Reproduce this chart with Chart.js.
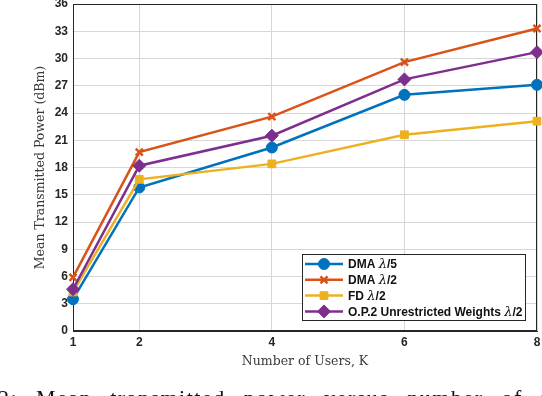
<!DOCTYPE html>
<html>
<head>
<meta charset="utf-8">
<script src="https://cdn.jsdelivr.net/npm/chart.js@4.4.1/dist/chart.umd.min.js"></script>
<style>
  html, body { margin: 0; padding: 0; background: #fff; }
  #wrap { position: relative; width: 542px; height: 396px; overflow: hidden; }
  #chart { position: absolute; left: 0; top: 0; }
  #caption {
    position: absolute; left: -2px; top: 385px; white-space: nowrap;
    font: 22px "Liberation Serif", serif; color: #111; letter-spacing: 1.5px; word-spacing: 11px;
  }
</style>
</head>
<body>
<div id="wrap">
  <canvas id="chart" width="542" height="396"></canvas>
  <div id="caption">2: Mean transmitted power versus number of users for</div>
</div>
<script>
// data
const users = [1, 2, 4, 6, 8];
const dmaLambda5 = [3.5, 15.8, 20.2, 26.0, 27.1];
const dmaLambda2 = [5.9, 19.7, 23.6, 29.6, 33.3];
const fdLambda2 = [4.3, 16.7, 18.4, 21.6, 23.1];
const opUnrestricted = [4.6, 18.2, 21.5, 27.7, 30.7];

const seriesNames = ['DMA λ/5', 'DMA λ/2', 'FD λ/2', 'O.P.2 Unrestricted Weights λ/2'];
const seriesColors = ['#0072BD', '#D95319', '#EDB120', '#7E2F8E'];
const seriesMarkers = ['circle', 'crossRot', 'rect', 'rectRot'];
const xTicks = [1, 2, 4, 6, 8];

const AXIS = '#262626';
const GRID = '#d6d6d6';
const TICK_FONT = { family: '"Liberation Sans", Arial, sans-serif', size: 12, weight: 'bold', lineHeight: 0.5 };

function makeSet(i, values, radius, order) {
  return {
    label: seriesNames[i],
    data: users.map((u, k) => ({ x: u, y: values[k] })),
    borderColor: seriesColors[i],
    backgroundColor: seriesColors[i],
    pointBackgroundColor: seriesColors[i],
    pointBorderColor: seriesColors[i],
    pointStyle: seriesMarkers[i],
    pointRadius: radius,
    pointBorderWidth: seriesMarkers[i] === 'crossRot' ? 2.5 : 1,
    borderWidth: 2.5,
    tension: 0,
    clip: false,
    order: order
  };
}

// draws text pieces, λ in italic serif
function drawMixed(ctx, text, x, y) {
  const parts = text.split('λ');
  let cx = x;
  parts.forEach((p, k) => {
    ctx.font = 'bold 12px "Liberation Sans", Arial, sans-serif';
    ctx.fillText(p, cx, y);
    cx += ctx.measureText(p).width;
    if (k < parts.length - 1) {
      ctx.font = 'italic 13px "DejaVu Serif", serif';
      ctx.fillText('λ', cx, y);
      cx += ctx.measureText('λ').width;
    }
  });
}

// box frame + matlab style legend
const frameAndLegend = {
  id: 'frameAndLegend',
  beforeDatasetsDraw(chart) {
    const { ctx, chartArea: a } = chart;
    ctx.save();
    ctx.strokeStyle = AXIS;
    ctx.lineWidth = 1;
    ctx.strokeRect(a.left + 0.5, a.top + 0.5, a.right - a.left - 1, a.bottom - a.top - 1);
    ctx.restore();
  },
  afterDatasetsDraw(chart) {
    const { ctx, chartArea: a } = chart;
    ctx.save();
    // legend box
    const lx = a.right - 235, ly = a.bottom - 77, lw = 223, lh = 66;
    ctx.fillStyle = '#fff';
    ctx.fillRect(lx, ly, lw, lh);
    ctx.strokeStyle = AXIS;
    ctx.lineWidth = 1;
    ctx.strokeRect(lx + 0.5, ly + 0.5, lw, lh);

    chart.data.datasets.forEach((ds, i) => {
      const rowY = ly + 10 + i * 15.8;
      ctx.strokeStyle = ds.borderColor;
      ctx.lineWidth = 2.5;
      ctx.beginPath();
      ctx.moveTo(lx + 3, rowY);
      ctx.lineTo(lx + 41, rowY);
      ctx.stroke();
      ctx.fillStyle = ds.backgroundColor;
      ctx.lineWidth = ds.pointBorderWidth;
      Chart.helpers.drawPoint(ctx, { pointStyle: ds.pointStyle, radius: ds.pointRadius, rotation: 0, borderWidth: ds.pointBorderWidth }, lx + 22, rowY);
      ctx.fillStyle = '#111';
      ctx.textBaseline = 'middle';
      ctx.textAlign = 'left';
      drawMixed(ctx, ds.label, lx + 46, rowY + 1);
    });
    ctx.restore();
  }
};

new Chart(document.getElementById('chart'), {
  type: 'line',
  data: {
    datasets: [
      makeSet(0, dmaLambda5, 5.5, 3),
      makeSet(1, dmaLambda2, 5, 2),
      makeSet(2, fdLambda2, 5.5, 1),
      makeSet(3, opUnrestricted, 6.5, 0)
    ]
  },
  options: {
    responsive: false,
    animation: false,
    layout: { autoPadding: false, padding: { left: 0, top: 4, right: 5, bottom: 0 } },
    plugins: { legend: { display: false }, tooltip: { enabled: false } },
    scales: {
      x: {
        type: 'linear',
        min: 1,
        max: 8,
        afterBuildTicks: (s) => { s.ticks = xTicks.map(v => ({ value: v })); },
        afterFit: (s) => { s.height = 65; s.paddingLeft = 0; s.paddingRight = 0; },
        grid: { color: GRID, drawTicks: false },
        border: { color: AXIS },
        ticks: { color: AXIS, font: TICK_FONT, padding: 9, autoSkip: false, maxRotation: 0 },
        title: {
          display: true,
          text: 'Number of Users, K',
          color: '#3a3a3a',
          font: { family: '"DejaVu Serif", serif', size: 12.5 },
          padding: { top: 0, bottom: 27 }
        }
      },
      y: {
        min: 0,
        max: 36,
        afterFit: (s) => { s.width = 73; s.paddingTop = 0; s.paddingBottom = 0; },
        grid: { color: GRID, drawTicks: false },
        border: { color: AXIS },
        ticks: { stepSize: 3, color: AXIS, font: TICK_FONT, padding: 5 },
        title: {
          display: true,
          text: 'Mean Transmitted Power (dBm)',
          color: '#3a3a3a',
          font: { family: '"DejaVu Serif", serif', size: 12.5 },
          padding: { top: 33, bottom: 0 }
        }
      }
    }
  },
  plugins: [frameAndLegend]
});
</script>
</body>
</html>
